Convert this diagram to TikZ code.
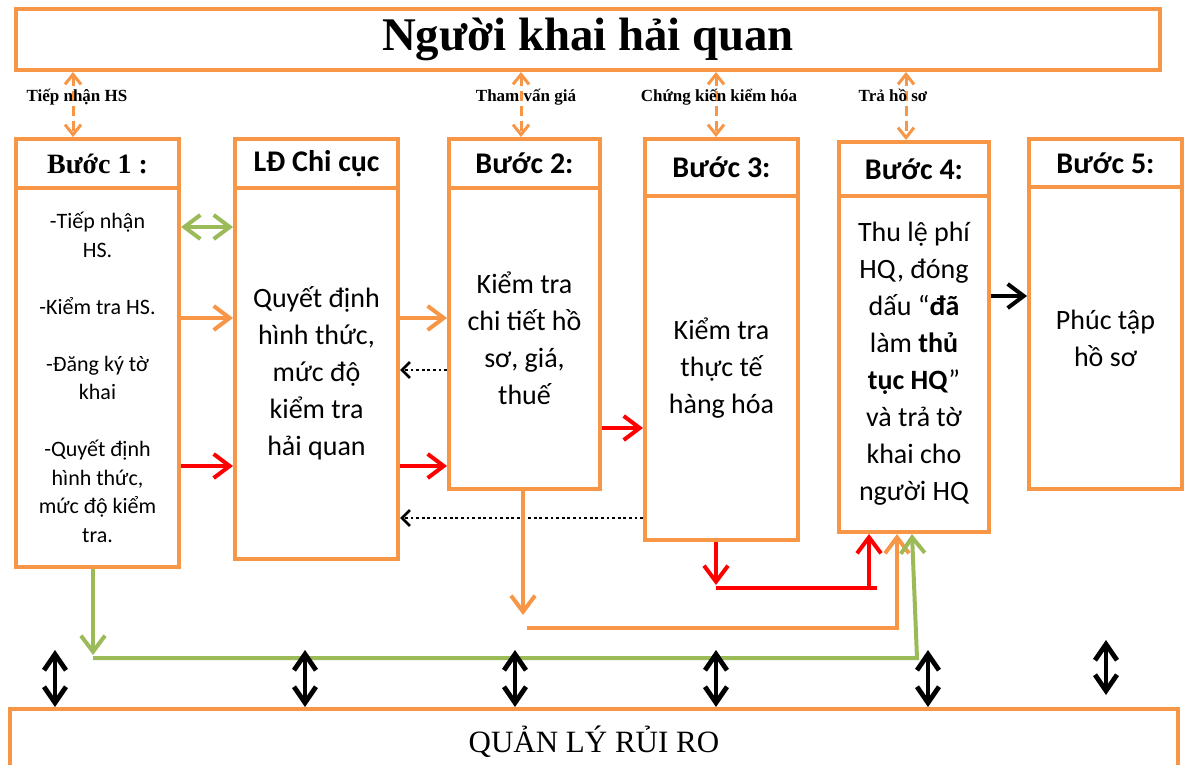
\documentclass[tikz,border=0pt]{standalone}
\usepackage{fontspec}
\setmainfont{Carlito}
\newfontfamily\tnr{Liberation Serif}
\usetikzlibrary{arrows.meta, positioning}
\definecolor{hqorange}{HTML}{F79646}
\definecolor{hqgreen}{HTML}{9BBB59}
\definecolor{hqred}{HTML}{FF0000}
\tikzset{
  box/.style={draw=hqorange, line width=2pt, anchor=north west, inner sep=0pt, align=center},
  head/.style={box, font=\fontsize{15}{18}\selectfont\bfseries},
  body/.style={box, font=\fontsize{14}{18.5}\selectfont},
  flow/.style={line width=2pt, -{Straight Barb[length=8pt,width=12pt]}},
  both/.style={line width=2pt, {Straight Barb[length=8pt,width=12pt]}-{Straight Barb[length=8pt,width=12pt]}},
  ask/.style={hqorange, line width=1.5pt, dash pattern=on 5pt off 2.5pt, {Straight Barb[length=5pt,width=8pt]}-{Straight Barb[length=5pt,width=8pt]}},
  back/.style={black, line width=1.4pt, dash pattern=on 1.4pt off 1.4pt, -{Straight Barb[length=4pt,width=8pt]}},
  risk/.style={black, line width=2.4pt, {Straight Barb[length=8pt,width=11pt]}-{Straight Barb[length=8pt,width=11pt]}},
  tag/.style={font=\tnr\bfseries\fontsize{8.5}{10}\selectfont, inner sep=0pt}
}

\begin{document}
\begin{tikzpicture}[x=0.5pt, y=-0.5pt]
\useasboundingbox (0,0) rectangle (1184,765);
\clip (0,0) rectangle (1184,765);

\node[box, minimum width=572pt, minimum height=30.5pt, font=\tnr\bfseries\fontsize{23.4}{28}\selectfont] (nk) at (14,7) {Người khai hải quan};
\node[box, minimum width=584pt, minimum height=33pt, font=\tnr\fontsize{15.5}{18}\selectfont] (ql) at (8,707) {QUẢN LÝ RỦI RO};

\node[head, minimum width=81.5pt, minimum height=24.5pt, font=\tnr\bfseries\fontsize{14}{17}\selectfont] (b1h) at (14,137) {Bước 1 :};
\node[body, minimum width=81.5pt, minimum height=189.5pt, font=\fontsize{11}{14.25}\selectfont] (b1) at (14,186) {-Tiếp nhận\\HS.\\[14.25pt]-Kiểm tra HS.\\[14.25pt]-Đăng ký tờ\\khai\\[14.25pt]-Quyết định\\hình thức,\\mức độ kiểm\\tra.};
\node[head, minimum width=81.5pt, minimum height=24.5pt] (ldh) at (233,137) {LĐ Chi cục};
\node[body, minimum width=81.5pt, minimum height=185.5pt] (ld) at (233,186) {Quyết định\\hình thức,\\mức độ\\kiểm tra\\hải quan};
\node[head, minimum width=75.5pt, minimum height=24.5pt] (b2h) at (447,137) {Bước 2:};
\node[body, minimum width=75.5pt, minimum height=150.5pt] (b2) at (447,186) {Kiểm tra\\chi tiết hồ\\sơ, giá,\\thuế};
\node[head, minimum width=76.5pt, minimum height=28.5pt] (b3h) at (643,137) {Bước 3:};
\node[body, minimum width=76.5pt, minimum height=172pt] (b3) at (643,194) {Kiểm tra\\thực tế\\hàng hóa};
\node[head, minimum width=75pt, minimum height=27pt] (b4h) at (837,140) {Bước 4:};
\node[body, minimum width=75pt, minimum height=168pt] (b4) at (837,194) {Thu lệ phí\\HQ, đóng\\dấu “\textbf{đã}\\làm \textbf{thủ}\\\textbf{tục HQ}”\\và trả tờ\\khai cho\\người HQ};
\node[head, minimum width=76.5pt, minimum height=24pt] (b5h) at (1027,137) {Bước 5:};
\node[body, minimum width=76.5pt, minimum height=151pt] (b5) at (1027,185) {Phúc tập\\hồ sơ};

\draw[ask] (nk.south -| 73,0) -- (b1h.north -| 73,0);
\draw[ask] (nk.south -| 521,0) -- (b2h.north -| 521,0);
\draw[ask] (nk.south -| 716,0) -- (b3h.north -| 716,0);
\draw[ask] (nk.south -| 906,0) -- (b4h.north -| 906,0);
\node[tag] (t1) at (77,97) {Tiếp nhận HS};
\node[tag] (t2) at (526,97) {Tham vấn giá};
\node[tag] (t3) at (719,97) {Chứng kiến kiểm hóa};
\node[tag] (t4) at (893,95) {Trả hồ sơ};

\draw[both, hqgreen] (b1.east |- 0,227) -- (ld.west |- 0,227);
\draw[flow, hqorange] (b1.east |- 0,318) -- (ld.west |- 0,318);
\draw[flow, hqred] (b1.east |- 0,466) -- (ld.west |- 0,466);
\draw[flow, hqorange] (ld.east |- 0,318) -- (b2.west |- 0,318);
\draw[flow, hqred] (ld.east |- 0,466) -- (b2.west |- 0,466);
\draw[back] (b2.west |- 0,370) -- (ld.east |- 0,370);
\draw[back] (b3.west |- 0,518) -- (ld.east |- 0,518);
\draw[flow, hqred] (b2.east |- 0,428) -- (b3.west |- 0,428);
\draw[flow, black] (b4.east |- 0,296) -- (b5.west |- 0,296);

\coordinate (o1) at (523,615);
\coordinate (o2) at (527,628);
\coordinate (o3) at (897,628);
\draw[flow, hqorange] (b2.south -| o1) -- (o1);
\draw[flow, hqorange] (o2) -- (o3) -- (b4.south -| o3);

\coordinate (r1) at (716,585);
\coordinate (r2) at (716,588);
\coordinate (r3) at (877,588);
\coordinate (r4) at (869,588);
\draw[flow, hqred] (b3.south -| r1) -- (r1);
\draw[hqred, line width=2pt] (r2) -- (r3);
\draw[flow, hqred] (r4) -- (b4.south -| r4);

\coordinate (g1) at (93,655);
\coordinate (g2) at (93,658);
\coordinate (g3) at (917,658);
\draw[flow, hqgreen] (b1.south -| g1) -- (g1);
\draw[flow, hqgreen] (g2) -- (g3) -- (b4.south -| 912,0);

\coordinate (k1) at (55,650);
\coordinate (k2) at (305,650);
\coordinate (k3) at (515,650);
\coordinate (k4) at (716,650);
\coordinate (k5) at (928,650);
\coordinate (k6) at (1106,640);
\coordinate (k7) at (1106,695);
\draw[risk] (k1) -- (ql.north -| k1);
\draw[risk] (k2) -- (ql.north -| k2);
\draw[risk] (k3) -- (ql.north -| k3);
\draw[risk] (k4) -- (ql.north -| k4);
\draw[risk] (k5) -- (ql.north -| k5);
\draw[risk] (k6) -- (k7);
\end{tikzpicture}
\end{document}
